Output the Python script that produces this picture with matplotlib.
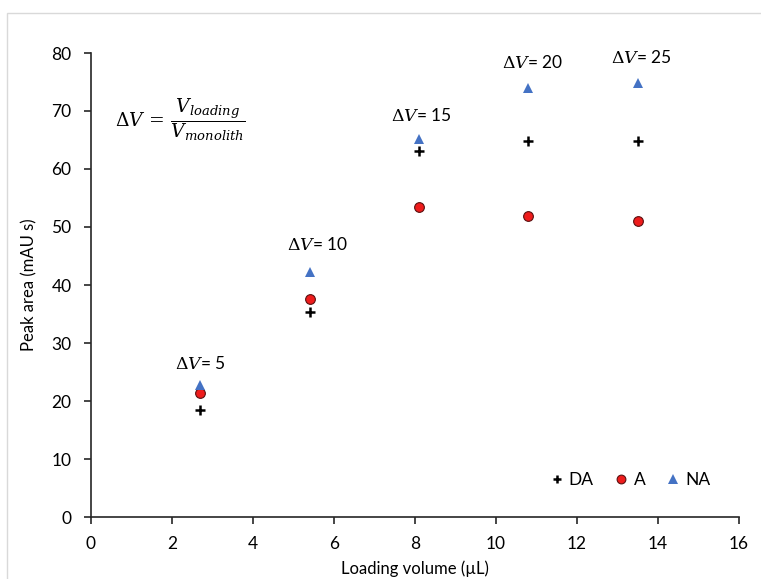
import matplotlib.pyplot as plt
from matplotlib.patches import Rectangle

plt.rcParams['font.family'] = ['Lato', 'DejaVu Sans']
plt.rcParams['mathtext.fontset'] = 'dejavuserif'

# data
loading = [2.7, 5.4, 8.1, 10.8, 13.5]
da = [18.4, 35.3, 63.1, 64.9, 64.9]
a = [21.4, 37.6, 53.4, 51.9, 51.0]
na = [22.8, 42.2, 65.2, 74.0, 74.8]
dv_labels = ['5', '10', '15', '20', '25']
dv_x = [2.7, 5.6, 8.15, 10.9, 13.6]
dv_y = [26.4, 46.9, 69.3, 78.3, 79.3]

fig = plt.figure(figsize=(7.61, 5.79), dpi=100)
ax = fig.add_axes([91/761, 62/579, 648/761, 464/579])

# light chart-area border
fig.add_artist(Rectangle((7/761, -0.1), 2, (579-13)/579 + 0.1, transform=fig.transFigure,
                         fill=False, edgecolor='#d9d9d9', lw=1))

ax.plot(loading, da, linestyle='none', marker='+', color='black', markersize=7,
        markeredgewidth=1.8, label='DA')
ax.plot(loading, a, linestyle='none', marker='o', color='#ee1c1c', markersize=7,
        markeredgecolor='#5a1010', markeredgewidth=0.8, label='A')
ax.plot(loading, na, linestyle='none', marker='^', color='#4472c4', markersize=7.5,
        markeredgewidth=0, label='NA')

for lab, x, y in zip(dv_labels, dv_x, dv_y):
    ax.text(x, y, r'$\Delta V$' + '= ' + lab, ha='center', va='center', fontsize=12.5)

ax.text(0.6, 68.5, r'$\Delta V\,=\,\dfrac{V_{loading}}{V_{monolith}}$', ha='left', va='center',
        fontsize=13.5)

ax.set_xlim(0, 16)
ax.set_ylim(0, 80)
ax.set_xticks(range(0, 17, 2))
ax.set_yticks(range(0, 81, 10))
ax.set_xlabel('Loading volume (µL)', fontsize=12, labelpad=6)
ax.set_ylabel('Peak area (mAU s)', fontsize=12, labelpad=10)

for side in ['top', 'right']:
    ax.spines[side].set_visible(False)
for side in ['left', 'bottom']:
    ax.spines[side].set_color('#262626')
    ax.spines[side].set_linewidth(1.2)
ax.tick_params(direction='out', length=5, width=1.2, color='#262626', labelsize=12.5, pad=9)

ax.legend(loc='center right', bbox_to_anchor=(0.98, 0.08), ncol=3, frameon=False,
          fontsize=12.5, handletextpad=0.1, columnspacing=1.0, handlelength=1.2,
          markerscale=0.9)

fig.savefig('out.png', dpi=100)
